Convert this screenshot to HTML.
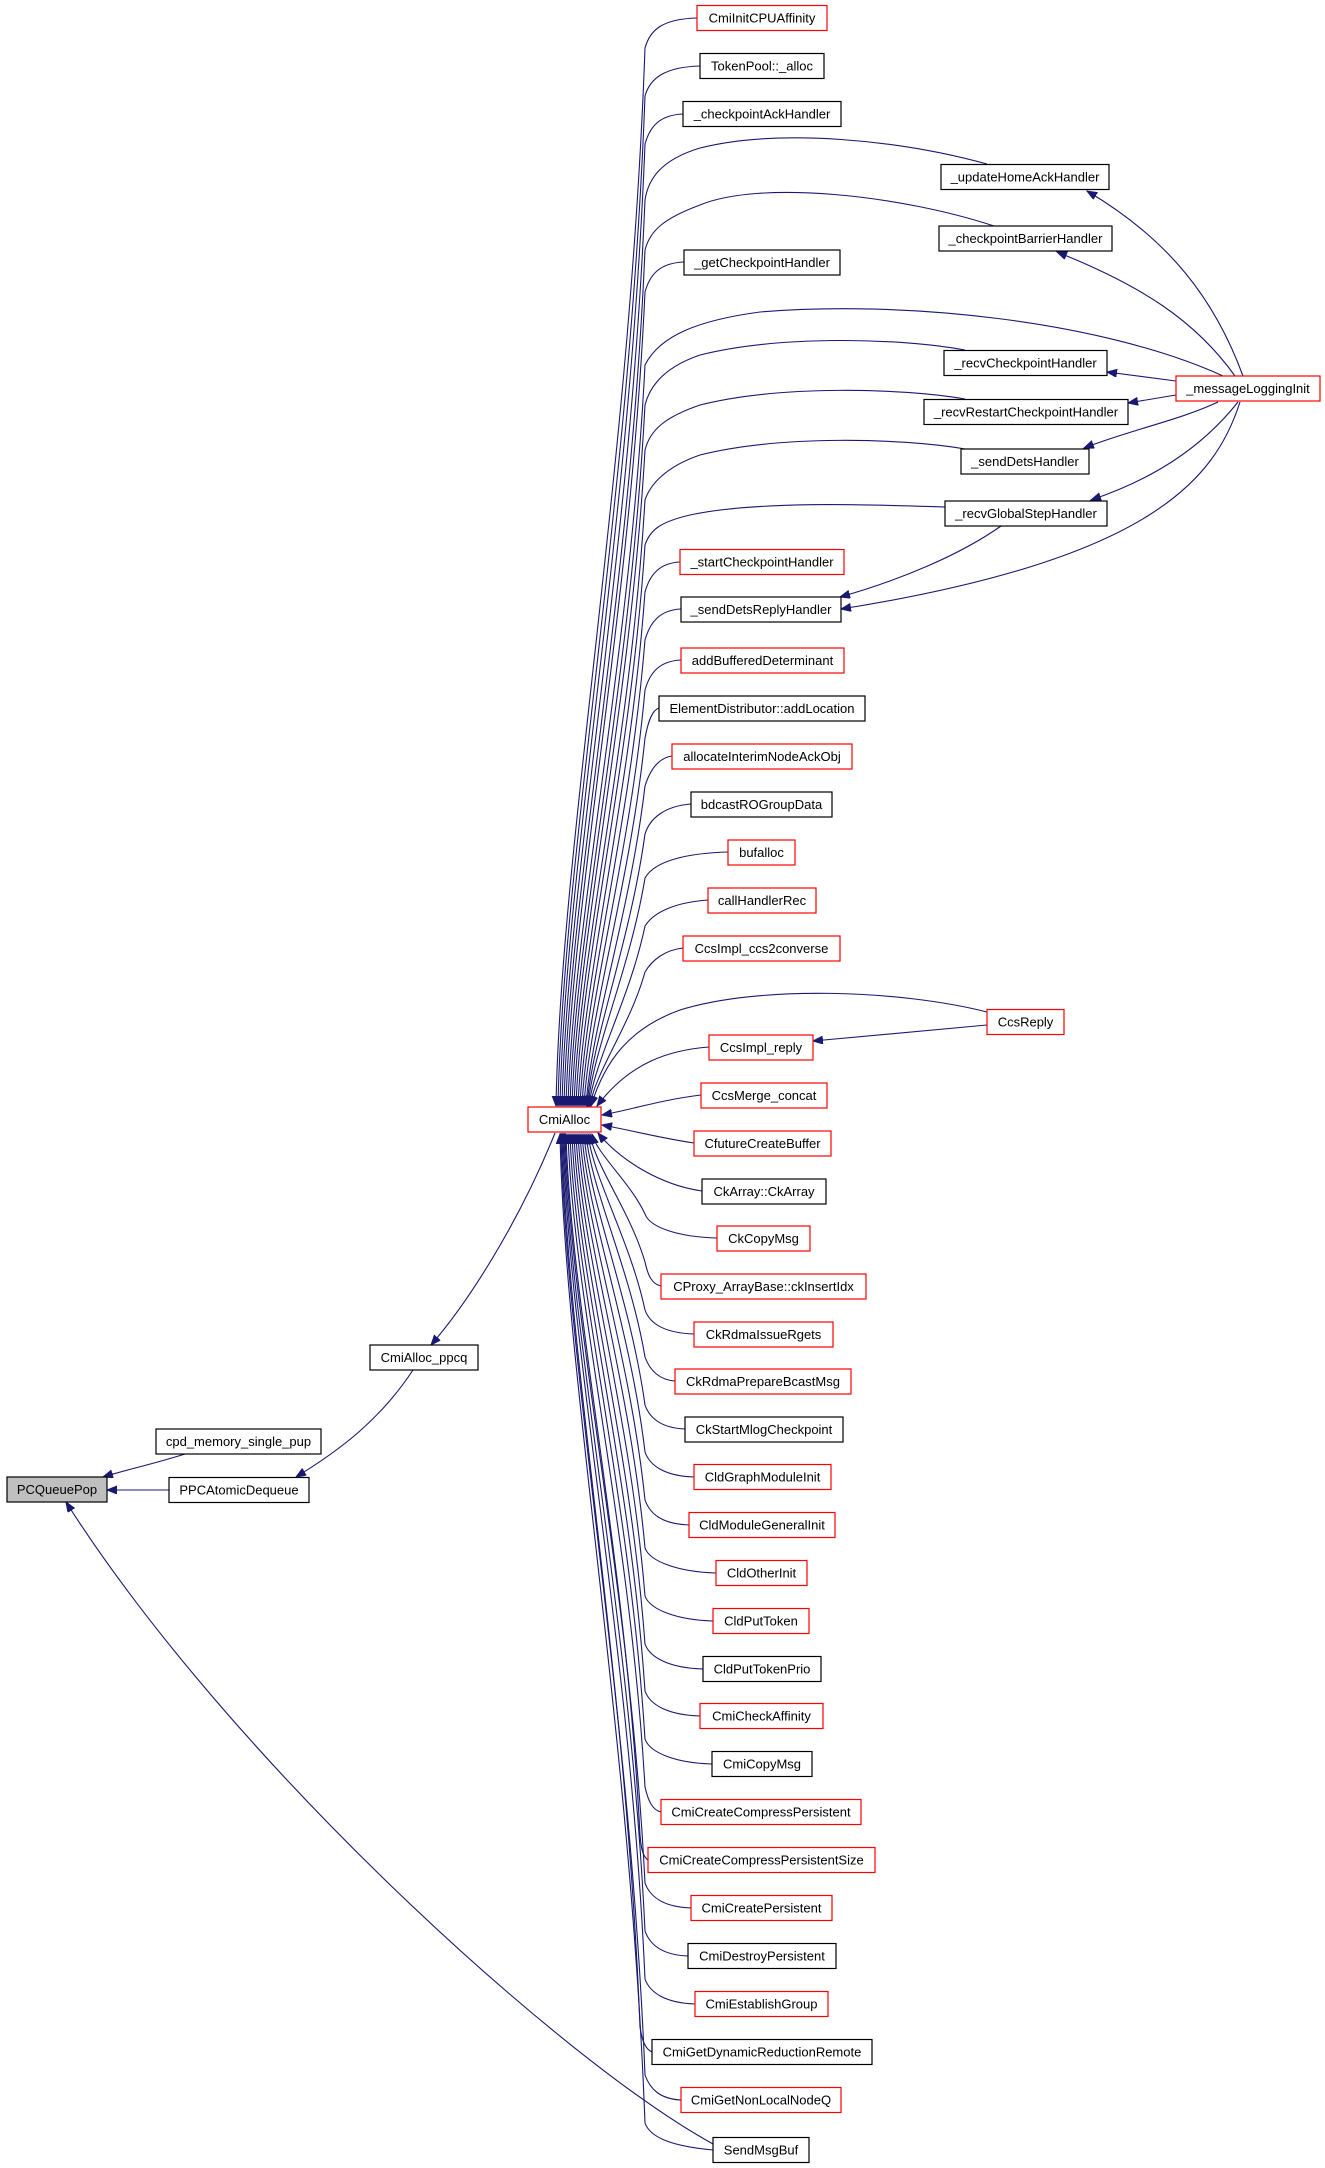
<!DOCTYPE html>
<html><head><meta charset="utf-8"><style>
html,body{margin:0;padding:0;background:#fff;}
svg{display:block;}
text{font-family:"Liberation Sans",sans-serif;font-size:13px;fill:#000;}
.e{fill:none;stroke:#191970;stroke-width:1.1;marker-end:url(#a);}
.r{fill:#fff;stroke:#ff0000;stroke-width:1.2;}
.b{fill:#fff;stroke:#000;stroke-width:1.2;}
.g{fill:#bfbfbf;stroke:#000;stroke-width:1.2;}
</style></head><body>
<svg width="1325" height="2168" viewBox="0 0 1325 2168" xmlns="http://www.w3.org/2000/svg">
<defs><marker id="a" markerUnits="userSpaceOnUse" markerWidth="12" markerHeight="10" refX="10" refY="4" orient="auto"><path d="M0 0 L10 4 L0 8 Z" fill="#191970" stroke="#191970"/></marker></defs>
<g>
<path class="e" d="M697 18 C662 19 650 30 645 48 C630 471 561 841 556 1106"/>
<path class="e" d="M700 66 C665 67 650 78 645 96 C630 500 563 854 558 1106"/>
<path class="e" d="M683 114 C660 115 650 126 645 144 C630 529 565 866 560 1106"/>
<path class="e" d="M987 164 C900 140 780 128 700 148 C660 160 648 180 645 200 C630 560 567 880 562 1106"/>
<path class="e" d="M994 226 C900 195 760 180 700 205 C665 218 650 230 645 250 C630 600 569 890 564 1106"/>
<path class="e" d="M684 262 C660 263 650 274 645 292 C630 618 571 902 566 1106"/>
<path class="e" d="M1223 376 C1100 320 900 300 760 312 C700 320 660 335 645 365 C630 660 573 920 568 1106"/>
<path class="e" d="M965 350 C900 338 780 335 700 355 C665 367 650 385 645 405 C630 690 575 930 570 1106"/>
<path class="e" d="M965 399 C900 388 780 385 700 405 C665 417 650 430 645 450 C630 710 577 940 572 1106"/>
<path class="e" d="M965 449 C900 438 780 435 700 455 C665 467 650 485 645 500 C630 750 579 950 574 1106"/>
<path class="e" d="M945 507 C880 505 760 500 690 515 C660 522 650 530 645 545 C630 770 581 960 576 1106"/>
<path class="e" d="M680 562 C660 563 650 574 645 592 C630 798 583 978 578 1106"/>
<path class="e" d="M681 609 C660 610 650 622 645 640 C630 826 585 990 580 1106"/>
<path class="e" d="M681 660 C660 661 650 672 645 690 C630 856 587 1002 582 1106"/>
<path class="e" d="M659 708 C652 710 648 722 645 738 C630 885 589 1014 584 1106"/>
<path class="e" d="M672 756 C658 758 650 770 645 786 C630 914 591 1026 586 1106"/>
<path class="e" d="M691 804 C665 806 650 818 645 834 C630 943 592 1038 587 1106"/>
<path class="e" d="M728 852 C690 853 655 860 645 878 C630 969 593 1049 588 1106"/>
<path class="e" d="M708 900 C680 902 655 910 645 926 C630 998 594 1061 589 1106"/>
<path class="e" d="M683 948 C665 950 652 960 645 972 C630 1026 595 1072 590 1106"/>
<path class="e" d="M987 1012 C900 990 760 985 680 1010 C630 1028 605 1060 591 1106"/>
<path class="e" d="M709 1047 C670 1050 630 1062 597 1106"/>
<path class="e" d="M701 1095 C660 1100 630 1110 602 1115"/>
<path class="e" d="M694 1143 C660 1138 630 1130 602 1125"/>
<path class="e" d="M702 1191 C660 1185 620 1160 598 1133"/>
<path class="e" d="M717 1238 C680 1237 650 1228 645 1214 C630 1182 597 1154 592 1134"/>
<path class="e" d="M661 1286 C652 1284 648 1276 645 1262 C630 1211 595 1166 590 1134"/>
<path class="e" d="M694 1334 C665 1333 650 1324 645 1310 C630 1240 593 1178 588 1134"/>
<path class="e" d="M675 1381 C660 1380 650 1371 645 1357 C630 1268 591 1190 586 1134"/>
<path class="e" d="M685 1429 C662 1428 650 1419 645 1405 C630 1297 589 1202 584 1134"/>
<path class="e" d="M694 1477 C665 1476 650 1466 645 1452 C630 1325 587 1214 582 1134"/>
<path class="e" d="M689 1525 C662 1524 650 1514 645 1500 C630 1354 585 1226 580 1134"/>
<path class="e" d="M716 1573 C680 1572 650 1562 645 1548 C630 1382 583 1238 578 1134"/>
<path class="e" d="M713 1621 C678 1620 650 1610 645 1596 C630 1411 581 1250 576 1134"/>
<path class="e" d="M703 1669 C670 1668 650 1658 645 1644 C630 1440 579 1262 574 1134"/>
<path class="e" d="M700 1716 C668 1715 650 1705 645 1691 C630 1468 577 1273 572 1134"/>
<path class="e" d="M712 1764 C676 1763 650 1753 645 1739 C630 1497 575 1285 570 1134"/>
<path class="e" d="M661 1812 C652 1810 648 1800 645 1787 C630 1526 573 1297 568 1134"/>
<path class="e" d="M648 1860 C642 1856 641 1846 640 1835 C626 1555 571 1309 566 1134"/>
<path class="e" d="M691 1908 C664 1907 650 1897 645 1883 C630 1583 570 1321 565 1134"/>
<path class="e" d="M688 1956 C662 1955 650 1945 645 1931 C630 1612 569 1333 564 1134"/>
<path class="e" d="M695 2004 C666 2003 650 1993 645 1979 C630 1641 568 1345 563 1134"/>
<path class="e" d="M652 2052 C645 2049 642 2040 640 2027 C626 1670 567 1357 562 1134"/>
<path class="e" d="M681 2100 C660 2099 650 2089 645 2075 C630 1699 566 1369 561 1134"/>
<path class="e" d="M713 2150 C670 2146 650 2137 645 2123 C630 1727 565 1381 560 1134"/>
<path class="e" d="M1243 376 C1215 300 1170 240 1087 191"/>
<path class="e" d="M1235 376 C1195 320 1140 285 1057 252"/>
<path class="e" d="M1176 381 L1107 372"/>
<path class="e" d="M1176 395 L1128 403"/>
<path class="e" d="M1218 402 C1180 420 1130 430 1084 448"/>
<path class="e" d="M1238 402 C1200 450 1150 480 1091 500"/>
<path class="e" d="M1240 402 C1215 480 1150 560 841 609"/>
<path class="e" d="M1001 526 C960 555 900 580 840 597"/>
<path class="e" d="M987 1025 L813 1041"/>
<path class="e" d="M555 1133 C520 1220 470 1300 431 1345"/>
<path class="e" d="M413 1370 C380 1420 340 1450 296 1477"/>
<path class="e" d="M185 1454 C150 1465 125 1470 103 1477"/>
<path class="e" d="M169 1490 L107 1490"/>
<path class="e" d="M713 2144 C560 2060 230 1760 66 1502"/>
</g>
<g>
<rect class="r" x="697" y="5.5" width="130" height="25"/><text x="762" y="22.5" text-anchor="middle">CmiInitCPUAffinity</text>
<rect class="b" x="700" y="53.5" width="124" height="25"/><text x="762" y="70.5" text-anchor="middle">TokenPool::_alloc</text>
<rect class="b" x="683" y="101.5" width="158" height="25"/><text x="762" y="118.5" text-anchor="middle">_checkpointAckHandler</text>
<rect class="b" x="941" y="164.5" width="168" height="25"/><text x="1025" y="181.5" text-anchor="middle">_updateHomeAckHandler</text>
<rect class="b" x="939" y="226" width="173" height="25"/><text x="1025.5" y="243" text-anchor="middle">_checkpointBarrierHandler</text>
<rect class="b" x="684" y="250" width="156" height="25"/><text x="762" y="267" text-anchor="middle">_getCheckpointHandler</text>
<rect class="b" x="944" y="350.5" width="163" height="25"/><text x="1025.5" y="367.5" text-anchor="middle">_recvCheckpointHandler</text>
<rect class="r" x="1176" y="376" width="144" height="25"/><text x="1248" y="393" text-anchor="middle">_messageLoggingInit</text>
<rect class="b" x="924" y="399.5" width="204" height="25"/><text x="1026" y="416.5" text-anchor="middle">_recvRestartCheckpointHandler</text>
<rect class="b" x="961" y="449" width="128" height="25"/><text x="1025" y="466" text-anchor="middle">_sendDetsHandler</text>
<rect class="b" x="945" y="501" width="162" height="25"/><text x="1026" y="518" text-anchor="middle">_recvGlobalStepHandler</text>
<rect class="r" x="680" y="549.5" width="164" height="25"/><text x="762" y="566.5" text-anchor="middle">_startCheckpointHandler</text>
<rect class="b" x="681" y="597" width="160" height="25"/><text x="761" y="614" text-anchor="middle">_sendDetsReplyHandler</text>
<rect class="r" x="681" y="648" width="163" height="25"/><text x="762.5" y="665" text-anchor="middle">addBufferedDeterminant</text>
<rect class="b" x="659" y="696" width="206" height="25"/><text x="762" y="713" text-anchor="middle">ElementDistributor::addLocation</text>
<rect class="r" x="672" y="744" width="180" height="25"/><text x="762" y="761" text-anchor="middle">allocateInterimNodeAckObj</text>
<rect class="b" x="691" y="792" width="141" height="25"/><text x="761.5" y="809" text-anchor="middle">bdcastROGroupData</text>
<rect class="r" x="728" y="840" width="67" height="25"/><text x="761.5" y="857" text-anchor="middle">bufalloc</text>
<rect class="r" x="708" y="888" width="108" height="25"/><text x="762" y="905" text-anchor="middle">callHandlerRec</text>
<rect class="r" x="683" y="936" width="157" height="25"/><text x="761.5" y="953" text-anchor="middle">CcsImpl_ccs2converse</text>
<rect class="r" x="987" y="1009.5" width="77" height="25"/><text x="1025.5" y="1026.5" text-anchor="middle">CcsReply</text>
<rect class="r" x="709" y="1035" width="104" height="25"/><text x="761" y="1052" text-anchor="middle">CcsImpl_reply</text>
<rect class="r" x="701" y="1083" width="126" height="25"/><text x="764" y="1100" text-anchor="middle">CcsMerge_concat</text>
<rect class="r" x="528" y="1107" width="73" height="25"/><text x="564.5" y="1124" text-anchor="middle">CmiAlloc</text>
<rect class="r" x="694" y="1131" width="137" height="25"/><text x="762.5" y="1148" text-anchor="middle">CfutureCreateBuffer</text>
<rect class="b" x="702" y="1179" width="124" height="25"/><text x="764" y="1196" text-anchor="middle">CkArray::CkArray</text>
<rect class="r" x="717" y="1226" width="93" height="25"/><text x="763.5" y="1243" text-anchor="middle">CkCopyMsg</text>
<rect class="r" x="661" y="1274" width="205" height="25"/><text x="763.5" y="1291" text-anchor="middle">CProxy_ArrayBase::ckInsertIdx</text>
<rect class="r" x="694" y="1322" width="139" height="25"/><text x="763.5" y="1339" text-anchor="middle">CkRdmaIssueRgets</text>
<rect class="r" x="675" y="1369" width="176" height="25"/><text x="763" y="1386" text-anchor="middle">CkRdmaPrepareBcastMsg</text>
<rect class="b" x="685" y="1417" width="158" height="25"/><text x="764" y="1434" text-anchor="middle">CkStartMlogCheckpoint</text>
<rect class="r" x="694" y="1464.5" width="137" height="25"/><text x="762.5" y="1481.5" text-anchor="middle">CldGraphModuleInit</text>
<rect class="r" x="689" y="1512.5" width="146" height="25"/><text x="762" y="1529.5" text-anchor="middle">CldModuleGeneralInit</text>
<rect class="r" x="716" y="1560.5" width="91" height="25"/><text x="761.5" y="1577.5" text-anchor="middle">CldOtherInit</text>
<rect class="r" x="713" y="1608.5" width="96" height="25"/><text x="761" y="1625.5" text-anchor="middle">CldPutToken</text>
<rect class="b" x="703" y="1656.5" width="118" height="25"/><text x="762" y="1673.5" text-anchor="middle">CldPutTokenPrio</text>
<rect class="r" x="700" y="1703.5" width="123" height="25"/><text x="761.5" y="1720.5" text-anchor="middle">CmiCheckAffinity</text>
<rect class="b" x="712" y="1751.5" width="100" height="25"/><text x="762" y="1768.5" text-anchor="middle">CmiCopyMsg</text>
<rect class="r" x="661" y="1799.5" width="200" height="25"/><text x="761" y="1816.5" text-anchor="middle">CmiCreateCompressPersistent</text>
<rect class="r" x="648" y="1847.5" width="227" height="25"/><text x="761.5" y="1864.5" text-anchor="middle">CmiCreateCompressPersistentSize</text>
<rect class="r" x="691" y="1895.5" width="141" height="25"/><text x="761.5" y="1912.5" text-anchor="middle">CmiCreatePersistent</text>
<rect class="b" x="688" y="1943.5" width="148" height="25"/><text x="762" y="1960.5" text-anchor="middle">CmiDestroyPersistent</text>
<rect class="r" x="695" y="1991.5" width="133" height="25"/><text x="761.5" y="2008.5" text-anchor="middle">CmiEstablishGroup</text>
<rect class="b" x="652" y="2039.5" width="220" height="25"/><text x="762" y="2056.5" text-anchor="middle">CmiGetDynamicReductionRemote</text>
<rect class="r" x="681" y="2087.5" width="160" height="25"/><text x="761" y="2104.5" text-anchor="middle">CmiGetNonLocalNodeQ</text>
<rect class="b" x="713" y="2137.5" width="96" height="25"/><text x="761" y="2154.5" text-anchor="middle">SendMsgBuf</text>
<rect class="b" x="370" y="1345" width="108" height="25"/><text x="424" y="1362" text-anchor="middle">CmiAlloc_ppcq</text>
<rect class="b" x="156" y="1429" width="165" height="25"/><text x="238.5" y="1446" text-anchor="middle">cpd_memory_single_pup</text>
<rect class="g" x="7" y="1477" width="100" height="25"/><text x="57" y="1494" text-anchor="middle">PCQueuePop</text>
<rect class="b" x="169" y="1477.5" width="140" height="25"/><text x="239" y="1494.5" text-anchor="middle">PPCAtomicDequeue</text>
</g>
</svg>
</body></html>
